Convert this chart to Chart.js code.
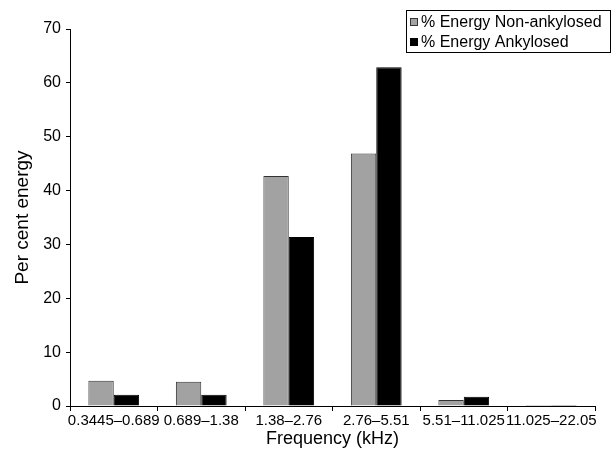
<!DOCTYPE html>
<html>
<head>
<meta charset="utf-8">
<script src="https://cdn.jsdelivr.net/npm/chart.js@4/dist/chart.umd.min.js"></script>
<style>
  html, body { margin: 0; padding: 0; background: #fff; }
  #wrap { width: 611px; height: 457px; position: relative; }
</style>
</head>
<body>
<div id="wrap"><canvas id="chart"></canvas></div>
<script>
// Dải tần số (kHz)
const categories = ['0.3445\u20130.689', '0.689\u20131.38', '1.38\u20132.76', '2.76\u20135.51', '5.51\u201311.025', '11.025\u201322.05'];
// % năng lượng
const nonAnkylosed = [4.7, 4.5, 42.7, 46.9, 1.1, 0.2];
const ankylosed = [2.1, 2.1, 31.4, 62.9, 1.7, 0.2];
const yTicks = [0, 10, 20, 30, 40, 50, 60, 70];

const FONT = "'Liberation Sans', Arial, Helvetica, sans-serif";

// Legend tự vẽ, có khung, góc trên bên phải
const boxLegend = {
    id: 'boxLegend',
    afterDraw(chart) {
        const ctx = chart.ctx;
        const x0 = 406.5, y0 = 10.5, w = 204, h = 42;
        ctx.save();
        ctx.fillStyle = '#fff';
        ctx.fillRect(x0, y0, w, h);
        ctx.strokeStyle = '#000';
        ctx.lineWidth = 1;
        ctx.strokeRect(x0, y0, w, h);
        ctx.font = '16px ' + FONT;
        ctx.textBaseline = 'middle';
        chart.data.datasets.forEach((ds, i) => {
            const cy = 22 + i * 20;
            ctx.fillStyle = ds.backgroundColor;
            ctx.fillRect(410.5, cy - 3.5, 7, 7);
            ctx.strokeStyle = ds.borderColor;
            ctx.strokeRect(410.5, cy - 3.5, 7, 7);
            ctx.fillStyle = '#000';
            ctx.fillText(ds.label, 421, cy + 1);
        });
        ctx.restore();
    }
};

new Chart(document.getElementById('chart'), {
    type: 'bar',
    data: {
        labels: categories,
        datasets: [{
            label: '% Energy Non-ankylosed',
            data: nonAnkylosed,
            backgroundColor: '#a2a2a2',
            borderColor: '#333',
            borderWidth: 1
        }, {
            label: '% Energy Ankylosed',
            data: ankylosed,
            backgroundColor: '#000',
            borderColor: '#000',
            borderWidth: 1
        }]
    },
    options: {
        responsive: true,
        maintainAspectRatio: false,
        animation: false,
        devicePixelRatio: 1,
        layout: { padding: { top: 29, right: 16, left: 0, bottom: 0 } },
        datasets: { bar: { categoryPercentage: 0.58, barPercentage: 1.0 } },
        plugins: { legend: { display: false }, tooltip: { enabled: false } },
        scales: {
            x: {
                grid: { drawOnChartArea: false, drawTicks: true, tickLength: 5, color: '#000', offset: true },
                border: { color: '#000', width: 1 },
                ticks: { color: '#000', font: { family: FONT, size: 15 }, padding: 1, maxRotation: 0, autoSkip: false },
                title: { display: true, text: 'Frequency (kHz)', color: '#000', font: { family: FONT, size: 18 }, padding: { top: 0, bottom: 7 } },
                afterFit(scale) { scale.height = 51; }
            },
            y: {
                min: 0,
                max: 70,
                afterBuildTicks(scale) { scale.ticks = yTicks.map(v => ({ value: v })); },
                grid: { drawOnChartArea: false, drawTicks: true, tickLength: 4, color: '#000' },
                border: { color: '#000', width: 1 },
                ticks: { color: '#000', font: { family: FONT, size: 16 }, padding: 5 },
                title: { display: true, text: 'Per cent energy', color: '#000', font: { family: FONT, size: 19 }, padding: { top: 11, bottom: 0 } },
                afterFit(scale) { scale.width = 70; }
            }
        }
    },
    plugins: [boxLegend]
});
</script>
</body>
</html>
